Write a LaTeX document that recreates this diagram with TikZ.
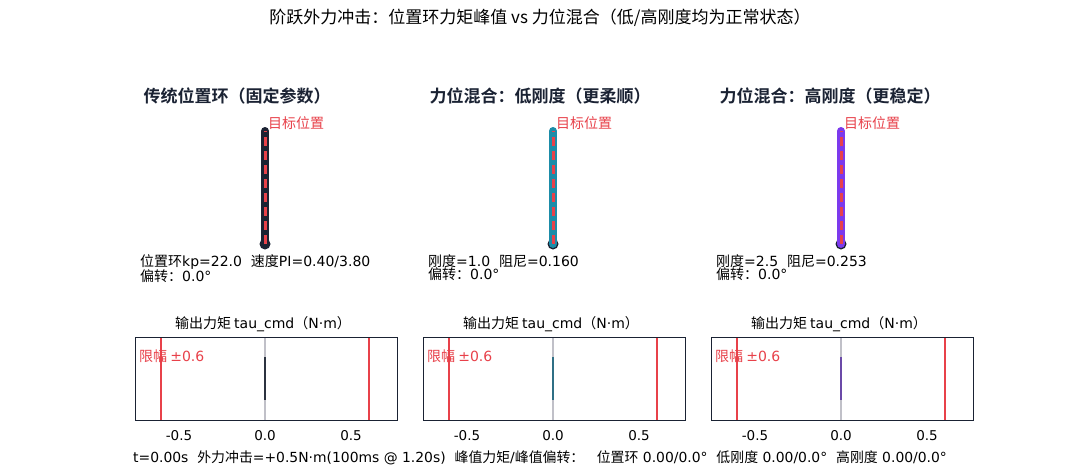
\documentclass[tikz,border=0pt]{standalone}
\usepackage{fontspec}
\setmainfont{Noto Sans CJK SC}[BoldFont={Noto Sans CJK SC Bold}]
\newfontfamily\lat{DejaVu Sans}
\newcommand\La[1]{{\lat #1}}
\definecolor{rodA}{HTML}{1B2233}
\definecolor{rodB}{HTML}{1B8CA8}
\definecolor{rodC}{HTML}{7C3AED}
\definecolor{barA}{HTML}{2C3340}
\definecolor{barB}{HTML}{2F6F85}
\definecolor{barC}{HTML}{6B4AA8}
\definecolor{tgt}{HTML}{E8414A}
\definecolor{zline}{HTML}{C0C0C8}
\definecolor{ink}{HTML}{1A2233}
\newcommand\fsz[1]{\fontsize{#1}{#1}\selectfont}
\tikzset{
  maintitle/.style={font=\fsz{17}, text=black, inner sep=0pt},
  paneltitle/.style={font=\fsz{17}\bfseries, text=ink, inner sep=0pt},
  tgtlabel/.style={font=\fsz{14}, text=tgt, inner sep=0pt, anchor=west},
  infotext/.style={font=\fontsize{14}{11}\selectfont, text=black, inner sep=0pt, anchor=north west, align=left},
  axtitle/.style={font=\fsz{14}, text=black, inner sep=0pt},
  ticklabel/.style={font=\fsz{13.5}, text=black, inner sep=0pt},
  limlabel/.style={font=\fsz{14}, text=tgt, inner sep=0pt, anchor=west},
  axbox/.style={draw=ink, line width=1pt},
  limline/.style={draw=tgt, line width=1.1pt},
  dashline/.style={draw=tgt, line width=3pt, dash pattern=on 9pt off 5pt},
}
\begin{document}
\begin{tikzpicture}[x=1pt,y=-1pt]
\useasboundingbox[fill=white] (0,0) rectangle (1079,472);
\node[maintitle] (title) at (540,18) {阶跃外力冲击：位置环力矩峰值 vs 力位混合（低/高刚度均为正常状态）};

\foreach \cx/\tx/\rc/\bc/\ttl/\info/\nm in {
  265/237/rodA/barA/{传统位置环（固定参数）}/{位置环\La{kp=22.0\ \ }速度\La{PI=0.40/3.80}\\偏转：\La{0.0°}}/a,
  553/540/rodB/barB/{力位混合：低刚度（更柔顺）}/{刚度\La{=1.0\ \ }阻尼\La{=0.160}\\偏转：\La{0.0°}}/b,
  841/830/rodC/barC/{力位混合：高刚度（更稳定）}/{刚度\La{=2.5\ \ }阻尼\La{=0.253}\\偏转：\La{0.0°}}/c}{
  \node[paneltitle] (pt\nm) at (\tx,96) {\ttl};
  \fill[rodA] (\cx,244) circle (5.5);
  \coordinate (base\nm) at (\cx,244);
  \coordinate (tip\nm) at (\cx,131);
  \draw[\rc, line width=8pt, line cap=round] (base\nm) -- (tip\nm);
  \draw[dashline] (base\nm) -- (tip\nm);
  \node[tgtlabel] (tl\nm) at (\cx+3,123) {目标位置};
  \node[infotext] (info\nm) at (\cx-125,254) {\info};
  \node[axtitle] (at\nm) at (\cx-2,324) {输出力矩 \La{tau\_cmd}（\La{N·m}）};
  \draw[zline, line width=2pt] (\cx,337) -- (\cx,420);
  \draw[\bc, line width=2pt] (\cx,357) -- (\cx,400);
  \draw[limline] (\cx-104,337) -- (\cx-104,420);
  \draw[limline] (\cx+104,337) -- (\cx+104,420);
  \draw[axbox] (\cx-130,337) rectangle (\cx+132,420);
  \node[limlabel] (lim\nm) at (\cx-126,356) {限幅 \La{±0.6}};
  \node[ticklabel] (tm\nm) at (\cx-86,436) {\La{-0.5}};
  \node[ticklabel] (tz\nm) at (\cx,436) {\La{0.0}};
  \node[ticklabel] (tp\nm) at (\cx+86,436) {\La{0.5}};
}
\node[font=\fsz{13.9}, inner sep=0pt, anchor=west] (status) at (133,458) {\La{t=0.00s\ \ }外力冲击\La{=+0.5N·m(100ms @ 1.20s)\ \ }峰值力矩\La{/}峰值偏转：\ \ \ \ 位置环\La{ 0.00/0.0°\ \ }低刚度\La{ 0.00/0.0°\ \ }高刚度\La{ 0.00/0.0°}};
\end{tikzpicture}
\end{document}
